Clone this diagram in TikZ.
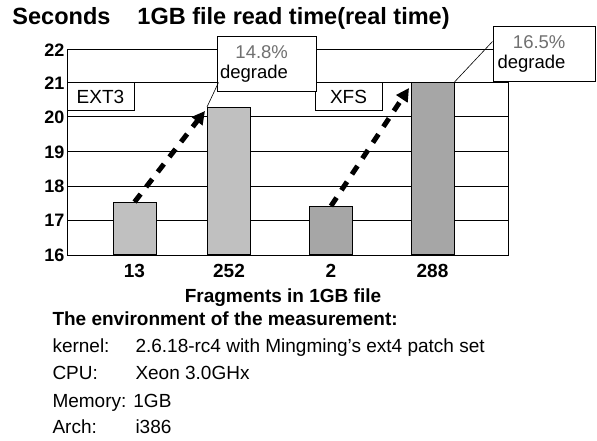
\documentclass[tikz,border=0pt]{standalone}
\usepackage{fontspec}
\setmainfont{Liberation Sans}
\usepackage{xcolor}
\usetikzlibrary{arrows.meta}
\definecolor{barlight}{HTML}{C0C0C0}
\definecolor{bardark}{HTML}{A6A6A6}
\definecolor{pcttext}{HTML}{707070}

\begin{document}
\begin{tikzpicture}[x=1pt,y=-1pt,line width=1pt,
  bar/.style={draw,anchor=south,minimum width=43pt,inner sep=0pt},
  tick/.style={anchor=east,font=\fontsize{18}{18}\selectfont\bfseries,inner sep=0pt},
  xlab/.style={anchor=base,font=\fontsize{19}{19}\selectfont\bfseries,inner sep=0pt},
  tag/.style={draw,fill=white,minimum width=67pt,minimum height=28pt,inner sep=0pt,font=\fontsize{19}{19}\selectfont},
  callout/.style={draw,fill=white,inner sep=0pt,minimum height=55pt,font=\fontsize{18.5}{20}\selectfont},
  rise/.style={line width=5pt,dash pattern=on 10pt off 9pt,-{Triangle[length=13pt,width=13pt]}},
  info/.style={anchor=base west,inner sep=0pt,font=\fontsize{19}{19}\selectfont}]
\useasboundingbox (0,0) rectangle (597,441);
% title
\node[anchor=base west,inner sep=0pt,font=\fontsize{23.5}{24}\selectfont\bfseries] (title) at (12,25)
  {Seconds\hspace{1.15em}1GB file read time(real time)};
% grid and frame
\foreach \yy in {50,83,117,152,186,220} \draw (67,\yy) -- (508,\yy);
\draw (67,50) -- (67,255) -- (508,255) -- (508,50);
% y ticks
\foreach \yy/\val in {50/22,83/21,117/20,152/19,186/18,220/17,255/16}
  \node[tick] (t\val) at (65,\yy) {\val};
% bars
\node[bar,fill=barlight,minimum height=52pt] (b1) at (134.5,255) {};
\node[bar,fill=barlight,minimum height=147pt] (b2) at (229,255) {};
\node[bar,fill=bardark,minimum height=48pt] (b3) at (331,255) {};
\node[bar,fill=bardark,minimum height=172pt] (b4) at (432.5,255) {};
% x labels
\node[xlab] (l1) at (134.5,277) {13};
\node[xlab] (l2) at (229,277) {252};
\node[xlab] (l3) at (331,277) {2};
\node[xlab] (l4) at (432.5,277) {288};
\node[xlab] (xt) at (283,302) {Fragments in 1GB file};
% file system tags
\node[tag] (ext3) at (100.5,97) {EXT3};
\node[tag] (xfs) at (348.5,97) {XFS};
% trend arrows
\coordinate (tip1) at (205,111);
\coordinate (tip2) at (409,88);
\draw[rise] (b1.north) -- (tip1);
\draw[rise] (b3.north) -- (tip2);
% callouts
\node[callout,minimum width=99pt] (c1) at (266.5,64.5)
  {\begin{tabular}{@{}r@{}}\textcolor{pcttext}{14.8\%}\\degrade\end{tabular}\hspace*{25pt}};
\node[callout,minimum width=102pt] (c2) at (544,54.5)
  {\begin{tabular}{@{}r@{}}\textcolor{pcttext}{16.5\%}\\degrade\end{tabular}\hspace*{25pt}};
\draw[line width=0.6pt] (b2.north west) -- ([xshift=2pt,yshift=10pt]c1.south west);
\draw[line width=0.6pt] (b4.north east) -- ([yshift=-15pt]c2.north west);
% environment
\node[info,font=\fontsize{19}{19}\selectfont\bfseries] (env) at (52,325) {The environment of the measurement:};
\node[info] (k1) at (52,352) {kernel:};
\node[info] (k2) at (135,352) {2.6.18-rc4 with Mingming's ext4 patch set};
\node[info] (c1l) at (52,379) {CPU:};
\node[info] (c2l) at (135,379) {Xeon 3.0GHx};
\node[info] (m1) at (52,407) {Memory: 1GB};
\node[info] (a1) at (52,433) {Arch:};
\node[info] (a2) at (135,433) {i386};
\end{tikzpicture}
\end{document}
